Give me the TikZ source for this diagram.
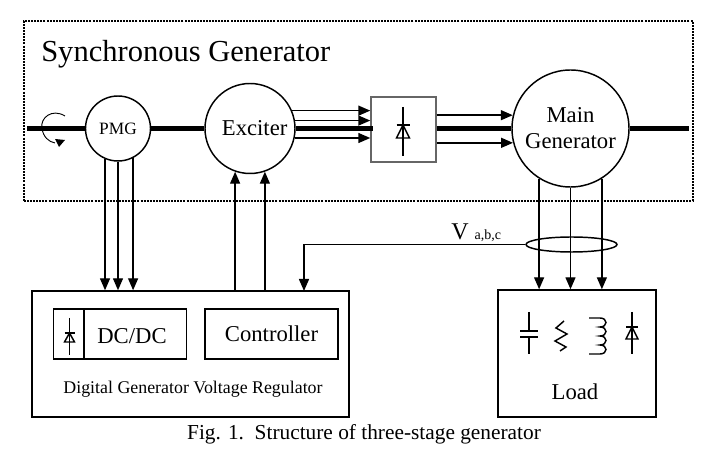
\documentclass[tikz,border=0pt]{standalone}
\usepackage{fontspec}
\setmainfont{Liberation Serif}
\usetikzlibrary{arrows.meta,shapes.geometric}
\tikzset{
	machine/.style={draw,circle,inner sep=0pt,line width=1.1pt,align=center,font=\fontsize{17}{19.5}\selectfont},
	blockbox/.style={draw,rectangle,inner sep=0pt,line width=1.1pt},
	shaft/.style={line width=3.2pt},
	wire/.style={line width=1.1pt,->},
	sym/.style={line width=1.1pt},
	txt/.style={inner sep=0pt,font=\fontsize{17}{20}\selectfont},
}
\begin{document}
\begin{tikzpicture}[x=.75pt,y=-.75pt,>={Stealth[length=9pt,width=7.5pt,inset=0pt]}]
	\useasboundingbox (0,0) rectangle (718,466);
	% frame of the generator
	\node [draw,rectangle,inner sep=0pt,line width=.8pt,dash pattern=on 1.5pt off .8pt,minimum width=501.75pt,minimum height=135pt] (gen) at (358.5,111) {};
	\node [inner sep=0pt,anchor=base west,font=\fontsize{22.9}{26}\selectfont] (gentitle) at (41,62) {Synchronous Generator};
	% machines
	\node [machine,minimum size=48.75pt,font=\fontsize{13}{15}\selectfont] (pmg) at (118,128.5) {PMG};
	\node [machine,minimum size=67.5pt,label={[xshift=3.5pt,inner sep=0pt,font=\fontsize{17}{20}\selectfont]center:Exciter}] (exciter) at (250,128.5) {};
	\node [machine,minimum size=87.75pt] (main) at (570.5,128.5) {Main\\Generator};
	\node [blockbox,draw=black!60,minimum width=48.75pt,minimum height=48.75pt] (rect) at (403.5,129.5) {};
	% blocks below
	\node [blockbox,minimum width=237.75pt,minimum height=94.5pt] (reg) at (190.5,354) {};
	\node [blockbox,minimum width=118.5pt,minimum height=95.25pt] (load) at (577,353.5) {};
	\node [blockbox,minimum width=99.75pt,minimum height=37.5pt] (dcdc) at (120,334) {};
	\node [txt] (dcdctxt) at (132,336) {DC/DC};
	\node [blockbox,txt,draw,minimum width=99.75pt,minimum height=37.5pt] (ctrl) at (271.5,334) {Controller};
	\node [inner sep=0pt,font=\fontsize{13.4}{16}\selectfont] (regtxt) at (193,389) {Digital Generator Voltage Regulator};
	\node [txt] (loadtxt) at (575,392) {Load};
	\node [inner sep=0pt,font=\fontsize{16}{18}\selectfont] (caption) at (364,434) {Fig. 1.\ \ Structure of three-stage generator};
	\node [draw,ellipse,inner sep=0pt,line width=1.1pt,minimum width=68.25pt,minimum height=11.25pt] (sensor) at (571.5,244.5) {};
	\node [inner sep=0pt,anchor=base west] (vabc) at (451,240) {\fontsize{18}{20}\selectfont V\ \fontsize{10.5}{12}\selectfont a,b,c};
	\coordinate (shaftin) at (27,128.5);
	\coordinate (shaftout) at (689,128.5);
	\coordinate (regin) at (304,291);
	% shaft
	\draw[shaft] (shaftin)--(pmg);
	\draw[shaft] (pmg)--(exciter);
	\draw[shaft] (exciter.east)--(373,128.5);
	\draw[shaft] (rect.east |- main.west)--(main.west);
	\draw[shaft] (main)--(shaftout);
	% rotation mark
	\draw[line width=.7pt] (65,116) .. controls (52,108) and (40,118) .. (42,128) .. controls (43,137) and (49,142) .. (55,143);
	\fill (55,139)--(65,140)--(59,147)--cycle;
	% three phase wires
	\foreach \a in {-113.6,-90,-63.5}
		\draw[wire] (pmg.\a)--(pmg.\a |- reg.north);
	\foreach \a in {-109.5,-71.9}
		\draw[wire] (exciter.\a |- reg.north)--(exciter.\a);
	\foreach \a in {23.3,10.9,-12.2}
		\draw[wire] (exciter.\a)--(exciter.\a -| rect.west);
	\foreach \a in {167.4,194.4}
		\draw[wire] (main.\a -| rect.east)--(main.\a);
	\foreach \a in {-122.6,-90,-58.9}
		\draw[wire] (main.\a)--(main.\a |- load.north);
	\draw[wire] (sensor.west)-|(regin);
	% divider of the DC/DC box
	\draw[sym] (84,309)--(84,359);
	% diodes: x, top, bar, base, bottom, half width
	\foreach \dx/\dtop/\dbar/\dbase/\dbot/\dw in {403/107/125/138/156/6.5,69.5/318/333/342/355/5,632/312/327/339/354/6}{
		\draw[sym] (\dx,\dtop)--(\dx,\dbot);
		\draw[sym] (\dx-\dw,\dbar)--(\dx+\dw,\dbar);
		\draw[sym] (\dx,\dbar)--(\dx+\dw,\dbase)--(\dx-\dw,\dbase)--cycle;
	}
	% capacitor
	\draw[sym] (529,312)--(529,331);
	\draw[sym] (529,337)--(529,354);
	\draw[sym] (520,331)--(538,331);
	\draw[sym] (520,337)--(538,337);
	% resistor
	\draw[sym] (564,321)--(556,328)--(567,334)--(555,341)--(566,347)--(560,351);
	% inductor
	\draw[sym] (589,318)--(600,318) .. controls (608,318) and (608,327) .. (600,327) .. controls (608,327) and (608,336) .. (600,336) .. controls (608,336) and (608,345) .. (600,345) .. controls (608,345) and (608,354) .. (600,354)--(589,354);
\end{tikzpicture}
\end{document}
